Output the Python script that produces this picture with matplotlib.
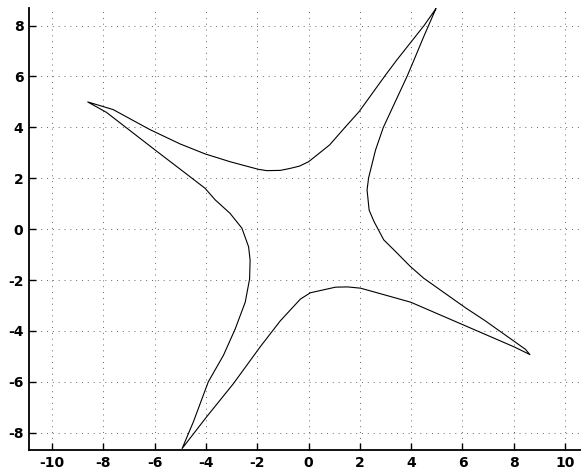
import matplotlib
matplotlib.use("Agg")
import matplotlib.pyplot as plt

# Closed star-shaped curve (in drawing order)
curve_x = [4.96, 4.5, 3.44, 2.98, 1.97, 1.41, 0.82, 0.0, -0.35, -0.71, -1.1, -1.63, -1.95, -3.06, -4.04,
           -5.01, -6.2, -7.62, -8.61,
           -7.88, -5.93, -4.88, -4.04, -3.64, -3.06, -2.6, -2.34, -2.28, -2.30, -2.47, -2.86, -3.32,
           -3.91, -4.49, -4.93,
           -3.97, -2.93, -1.89, -1.1, -0.32, 0.07, 1.05, 1.52, 2.03, 3.98, 6.07, 8.02, 8.63,
           8.45, 6.87, 6.13, 4.49, 3.97, 3.39, 2.93, 2.55, 2.36, 2.28, 2.34, 2.61, 2.91, 3.85, 4.11,
           4.49, 4.96]
curve_y = [8.66, 8.0, 6.65, 6.03, 4.62, 3.99, 3.31, 2.65, 2.48, 2.39, 2.31, 2.30, 2.35, 2.65, 2.96,
           3.35, 3.92, 4.70, 5.0,
           4.59, 3.07, 2.26, 1.61, 1.15, 0.62, 0.04, -0.69, -1.21, -1.96, -2.87, -3.92, -4.96,
           -6.0, -7.57, -8.62,
           -7.37, -6.07, -4.63, -3.6, -2.75, -2.5, -2.28, -2.27, -2.32, -2.87, -3.78, -4.63, -4.93,
           -4.72, -3.59, -3.1, -1.93, -1.47, -0.88, -0.42, 0.30, 0.75, 1.54, 2.02, 3.11, 3.99, 6.03, 6.65,
           7.57, 8.66]

x_ticks = [-10, -8, -6, -4, -2, 0, 2, 4, 6, 8, 10]
y_ticks = [-8, -6, -4, -2, 0, 2, 4, 6, 8]

fig = plt.figure(figsize=(5.81, 4.72), dpi=100)
ax = fig.add_axes([0.0499, 0.0466, 0.9501, 0.9358])
ax.plot(curve_x, curve_y, color="black", linewidth=0.8)

ax.set_xlim(-10.9, 10.62)
ax.set_ylim(-8.68, 8.68)
ax.set_xticks(x_ticks)
ax.set_yticks(y_ticks)
ax.set_xticklabels([str(t) for t in x_ticks], fontsize=10, fontweight="bold")
ax.set_yticklabels([str(t) for t in y_ticks], fontsize=10, fontweight="bold")
ax.tick_params(direction="in", length=5, width=1.0, pad=4)
ax.grid(True, linestyle=(0, (1, 5)), color="#666666", linewidth=0.7)
for s in ["top", "right"]:
    ax.spines[s].set_visible(False)
for s in ["left", "bottom"]:
    ax.spines[s].set_linewidth(1.3)

fig.savefig("out.png", dpi=100)
